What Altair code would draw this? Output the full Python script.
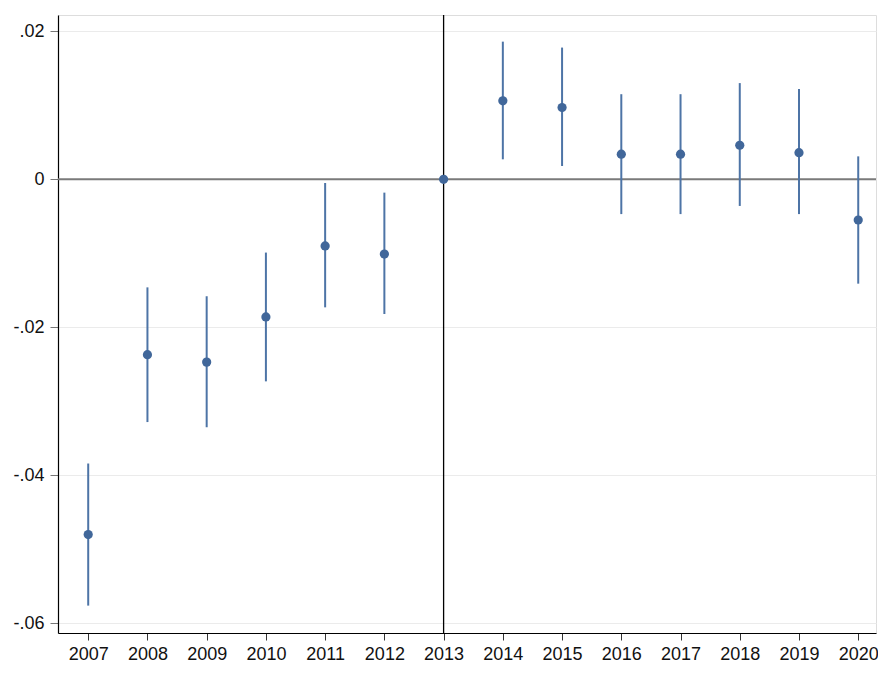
import altair as alt
import pandas as pd

years = [2007, 2008, 2009, 2010, 2011, 2012, 2013, 2014, 2015, 2016, 2017, 2018, 2019, 2020]
coef = [-0.0480, -0.0237, -0.0247, -0.0186, -0.0090, -0.0101, 0.0, 0.0106, 0.0097, 0.0034, 0.0034, 0.0046, 0.0036, -0.0055]
ci_low = [-0.0576, -0.0328, -0.0335, -0.0273, -0.0173, -0.0182, 0.0, 0.0027, 0.0018, -0.0047, -0.0047, -0.0036, -0.0047, -0.0141]
ci_high = [-0.0384, -0.0146, -0.0158, -0.0099, -0.0005, -0.0018, 0.0, 0.0186, 0.0178, 0.0115, 0.0115, 0.0130, 0.0122, 0.0031]
y_ticks = [-0.06, -0.04, -0.02, 0.0, 0.02]
event_year = [2013]
zero_line = [0.0]

df = pd.DataFrame({"year": years, "coef": coef, "lo": ci_low, "hi": ci_high})
ci_df = df[df["year"] != 2013]

blue = "#41679A"
FONT = "Liberation Sans"

xscale = alt.Scale(domain=[2006.49, 2020.30], nice=False, zero=False)
yscale = alt.Scale(domain=[-0.0613, 0.0222], nice=False, zero=False)

xaxis = alt.Axis(
    values=years, format="d", title=None, grid=False,
    domainColor="#000000", domainWidth=1.2, tickColor="#333333", tickSize=7, tickWidth=1,
    labelFont=FONT, labelFontSize=18, labelColor="#111111", labelPadding=5,
)
yaxis = alt.Axis(
    values=y_ticks, title=None, grid=True, gridColor="#ebebeb", gridWidth=1,
    domainColor="#000000", domainWidth=1.2, tickColor="#777777", tickSize=8, tickWidth=1,
    labelFont=FONT, labelFontSize=18, labelColor="#111111", labelPadding=6,
    labelExpr="datum.value == 0 ? '0' : (datum.value < 0 ? '-' : '') + replace(format(abs(datum.value), '.2f'), '0.', '.')",
)

base = alt.Chart(df)

frame = base.mark_point(opacity=0).encode(
    x=alt.X("year:Q", scale=xscale, axis=xaxis),
    y=alt.Y("coef:Q", scale=yscale, axis=yaxis),
)

hline = alt.Chart(pd.DataFrame({"y": zero_line})).mark_rule(color="#7a7a7a", strokeWidth=2).encode(
    y=alt.Y("y:Q", scale=yscale)
)
vline = alt.Chart(pd.DataFrame({"x": event_year})).mark_rule(color="#000000", strokeWidth=1.3).encode(
    x=alt.X("x:Q", scale=xscale)
)

bars = alt.Chart(ci_df).mark_rule(color="#4d74a6", strokeWidth=2).encode(
    x=alt.X("year:Q", scale=xscale),
    y=alt.Y("lo:Q", scale=yscale),
    y2="hi:Q",
)

pts = base.mark_circle(color=blue, size=85, opacity=1).encode(
    x=alt.X("year:Q", scale=xscale),
    y=alt.Y("coef:Q", scale=yscale),
)

chart = alt.layer(frame, hline, vline, bars, pts).properties(
    width=818, height=618,
    autosize=alt.AutoSizeParams(type="none"),
    padding={"left": 50, "top": 7, "right": 2, "bottom": 29},
).configure_view(stroke=None).configure(background="white")

chart.save("out.html", embed_options={"renderer": "svg", "actions": False})
